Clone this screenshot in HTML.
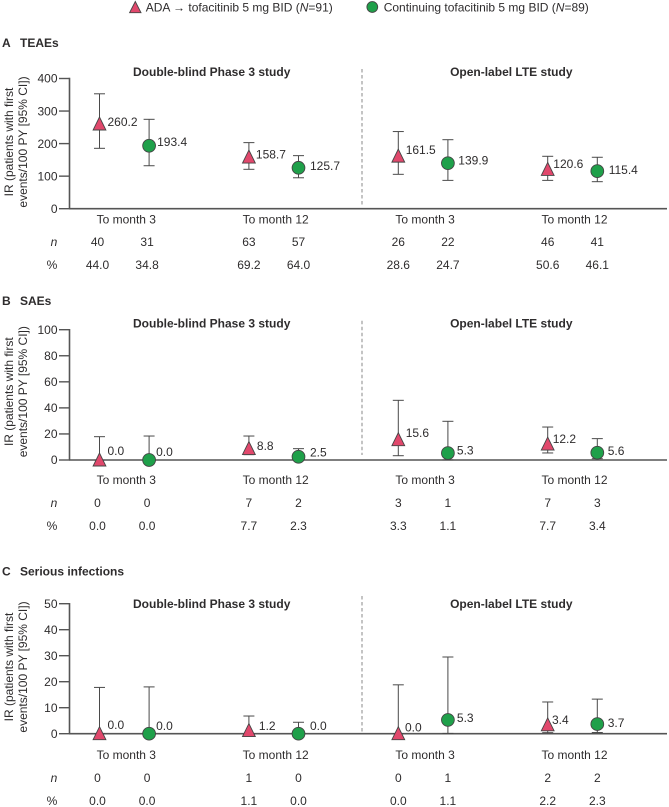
<!DOCTYPE html>
<html lang="en">
<head>
<meta charset="utf-8">
<title>Incidence rates by study period</title>
<style>
html,body{margin:0;padding:0;background:#fff;width:669px;height:807px;overflow:hidden}
svg{display:block}
text{font-family:"Liberation Sans",Arial,sans-serif;font-size:12px;fill:#2e2c2d}
</style>
</head>
<body>
<svg id="chart" width="669" height="807" viewBox="0 0 669 807" xmlns="http://www.w3.org/2000/svg">
  <g>
    <polygon points="135.3,1.5 129.6,12.7 141,12.7" fill="#e1486c" stroke="#444" stroke-width="0.9"/>
    <text x="145.7" y="11.3">ADA → tofacitinib 5 mg BID (<tspan font-style="italic">N</tspan>=91)</text>
    <circle cx="372.3" cy="7" r="5.4" fill="#1fa04a" stroke="#444" stroke-width="0.9"/>
    <text x="383.7" y="11.3">Continuing tofacitinib 5 mg BID (<tspan font-style="italic">N</tspan>=89)</text>
  </g>
</svg>
<script>
// Shared categories
const periods = ["To month 3", "To month 12", "To month 3", "To month 12"];
const studies = ["Double-blind Phase 3 study", "Open-label LTE study"];

// Panel A: TEAEs
const teaeTicks = [0, 100, 200, 300, 400];
const teaeAdaValues = [260.2, 158.7, 161.5, 120.6];
const teaeAdaUpper = [353, 203, 237, 161];
const teaeAdaLower = [185.5, 121, 105.6, 87];
const teaeAdaN = [40, 63, 26, 46];
const teaeAdaPct = [44.0, 69.2, 28.6, 50.6];
const teaeContValues = [193.4, 125.7, 139.9, 115.4];
const teaeContUpper = [274.6, 163, 212, 158];
const teaeContLower = [132, 95, 87, 83];
const teaeContN = [31, 57, 22, 41];
const teaeContPct = [34.8, 64.0, 24.7, 46.1];

// Panel B: SAEs
const saeTicks = [0, 20, 40, 60, 80, 100];
const saeAdaValues = [0.0, 8.8, 15.6, 12.2];
const saeAdaUpper = [17.9, 18.4, 45.8, 25.3];
const saeAdaLower = [0, 4.1, 3.3, 5.4];
const saeAdaN = [0, 7, 3, 7];
const saeAdaPct = [0.0, 7.7, 3.3, 7.7];
const saeContValues = [0.0, 2.5, 5.3, 5.6];
const saeContUpper = [18.4, 8.7, 29.7, 16.4];
const saeContLower = [0, 0.3, 0.1, 1];
const saeContN = [0, 2, 1, 3];
const saeContPct = [0.0, 2.3, 1.1, 3.4];

// Panel C: Serious infections
const infTicks = [0, 10, 20, 30, 40, 50];
const infAdaValues = [0.0, 1.2, 0.0, 3.4];
const infAdaUpper = [17.8, 6.8, 18.8, 12.2];
const infAdaLower = [0, 0.03, 0, 0.4];
const infAdaN = [0, 1, 0, 2];
const infAdaPct = [0.0, 1.1, 0.0, 2.2];
const infContValues = [0.0, 0.0, 5.3, 3.7];
const infContUpper = [18, 4.4, 29.5, 13.3];
const infContLower = [0, 0, 0.1, 0.45];
const infContN = [0, 0, 1, 2];
const infContPct = [0.0, 0.0, 1.1, 2.3];

const panels = [
  { letter: "A", title: "TEAEs", titleY: 43, top: 78.5, bottom: 208.7, max: 400, ticks: teaeTicks,
    headY: 72, dashTop: 69, dashBottom: 205, periodY: 219.3, nY: 242, pctY: 265, axisTitleY: 142,
    ada: { v: teaeAdaValues, hi: teaeAdaUpper, lo: teaeAdaLower, n: teaeAdaN, pct: teaeAdaPct,
           nudgeX: [8, 7, 7.4, 5.6], nudgeY: [-2.3, -2.7, -6.4, -5.4] },
    cont: { v: teaeContValues, hi: teaeContUpper, lo: teaeContLower, n: teaeContN, pct: teaeContPct,
           nudgeX: [8, 11.5, 10.4, 11.4], nudgeY: [-4, -2.1, -2.9, -1.1] } },
  { letter: "B", title: "SAEs", titleY: 300.7, top: 329.7, bottom: 460, max: 100, ticks: saeTicks,
    headY: 323.3, dashTop: 320.7, dashBottom: 455, periodY: 480, nY: 502.7, pctY: 525.7, axisTitleY: 391.7,
    ada: { v: saeAdaValues, hi: saeAdaUpper, lo: saeAdaLower, n: saeAdaN, pct: saeAdaPct,
           nudgeX: [8, 8, 7.4, 5], nudgeY: [-9, -2.8, -6.7, -5.4] },
    cont: { v: saeContValues, hi: saeContUpper, lo: saeContLower, n: saeContN, pct: saeContPct,
           nudgeX: [7, 11.5, 9, 10.4], nudgeY: [-8, -4.4, -2.8, -1.7] } },
  { letter: "C", title: "Serious infections", titleY: 571.3, top: 603.7, bottom: 733.7, max: 50, ticks: infTicks,
    headY: 603.7, dashTop: 596, dashBottom: 731.7, periodY: 755, nY: 778, pctY: 801, axisTitleY: 667,
    ada: { v: infAdaValues, hi: infAdaUpper, lo: infAdaLower, n: infAdaN, pct: infAdaPct,
           nudgeX: [8, 10, 6.7, 4.3], nudgeY: [-8.7, -4.6, -6.4, -5.1] },
    cont: { v: infContValues, hi: infContUpper, lo: infContLower, n: infContN, pct: infContPct,
           nudgeX: [7, 11.5, 9, 10.4], nudgeY: [-7.7, -7.7, -2.2, -1.3] } }
];

const AXIS = "#555";
const WHISKER = "#4a4a4a";
const PINK = "#e1486c";
const GREEN = "#1fa04a";
const NS = "http://www.w3.org/2000/svg";
const root = document.getElementById("chart");

function make(tag, attrs, parent, txt) {
  const node = document.createElementNS(NS, tag);
  for (const k in attrs) node.setAttribute(k, attrs[k]);
  if (txt !== undefined) node.textContent = txt;
  parent.appendChild(node);
  return node;
}
function xPos(periodIndex, seriesIndex) {
  return 99.5 + 149.4 * periodIndex + 49.6 * seriesIndex;
}
function drawText(parent, x, centerY, str, anchor, extra) {
  return make("text", Object.assign({ x: x, y: centerY + 4.2, "text-anchor": anchor || "start" }, extra || {}), parent, str);
}

panels.forEach(function (p) {
  const yPos = function (val) { return p.bottom - (val / p.max) * (p.bottom - p.top); };

  const g = make("g", {}, root);
  
  

  let el = drawText(g, 2, p.titleY, p.letter, "start", { "font-weight": "bold" });
  
  
  el = drawText(g, 20, p.titleY, p.title, "start", { "font-weight": "bold" });
  
  

  [211.7, 511.3].forEach(function (cx, i) {
    const head = drawText(g, cx, p.headY, studies[i], "middle", { "font-weight": "bold" });
    
    
  });

  const dash = make("line", { x1: 362, x2: 362, y1: p.dashTop, y2: p.dashBottom, stroke: "#8a8a8a", "stroke-width": 1, "stroke-dasharray": "3.5 2.5" }, g);
  
  

  const yTitle = make("text", { transform: "translate(0," + p.axisTitleY + ") rotate(-90)", "text-anchor": "middle" }, g);
  
  
  make("tspan", { x: 0, y: 12.8 }, yTitle, "IR (patients with first");
  make("tspan", { x: 0, y: 27 }, yTitle, "events/100 PY [95% CI])");

  const yAxis = make("line", { x1: 69.5, x2: 69.5, y1: p.top - 0.7, y2: p.bottom, stroke: AXIS, "stroke-width": 1.6 }, g);
  
  

  p.ticks.forEach(function (t) {
    const mark = make("line", { x1: 59, x2: 69.5, y1: yPos(t), y2: yPos(t), stroke: AXIS, "stroke-width": 1.4 }, g);
    
    
    const lab = drawText(g, 57.5, yPos(t), String(t), "end");
    
    
  });

  const base = make("line", { x1: 69, x2: 667, y1: p.bottom, y2: p.bottom, stroke: AXIS, "stroke-width": 1.6 }, g);
  
  

  periods.forEach(function (name, i) {
    const cat = drawText(g, (xPos(i, 0) + xPos(i, 1)) / 2 + 2, p.periodY, name, "middle");
    
    
  });

  const nHead = drawText(g, 54, p.nY, "n", "middle", { "font-style": "italic" });
  
  
  const pctHead = drawText(g, 52, p.pctY, "%", "middle");
  
  

  [p.ada, p.cont].forEach(function (s, si) {
    s.v.forEach(function (val, i) {
      const cx = xPos(i, si);
      const cy = yPos(val);
      const tableX = i === 0 ? cx - 2 : cx;

      const bar = make("line", { x1: cx, x2: cx, y1: yPos(s.hi[i]), y2: yPos(s.lo[i]), stroke: WHISKER, "stroke-width": 1 }, g);
      
      
      const capHi = make("line", { x1: cx - 5.5, x2: cx + 5.5, y1: yPos(s.hi[i]), y2: yPos(s.hi[i]), stroke: WHISKER, "stroke-width": 1 }, g);
      
      
      const capLo = make("line", { x1: cx - 5.5, x2: cx + 5.5, y1: yPos(s.lo[i]), y2: yPos(s.lo[i]), stroke: WHISKER, "stroke-width": 1 }, g);
      
      

      let marker;
      if (si === 0) {
        marker = make("polygon", {
          points: cx + "," + (cy - 7) + " " + (cx - 6.4) + "," + (cy + 6) + " " + (cx + 6.4) + "," + (cy + 6),
          fill: PINK, stroke: "#444", "stroke-width": 0.9
        }, g);
        
        
      } else {
        marker = make("circle", { cx: cx, cy: cy, r: 6.4, fill: GREEN, stroke: "#444", "stroke-width": 0.9 }, g);
        
        
      }

      const vLab = drawText(g, cx + s.nudgeX[i], cy + s.nudgeY[i], val.toFixed(1));
      
      

      const nLab = drawText(g, tableX, p.nY, String(s.n[i]), "middle");
      
      
      const pctLab = drawText(g, tableX, p.pctY, s.pct[i].toFixed(1), "middle");
      
      
    });
  });
});
</script>
</body>
</html>
